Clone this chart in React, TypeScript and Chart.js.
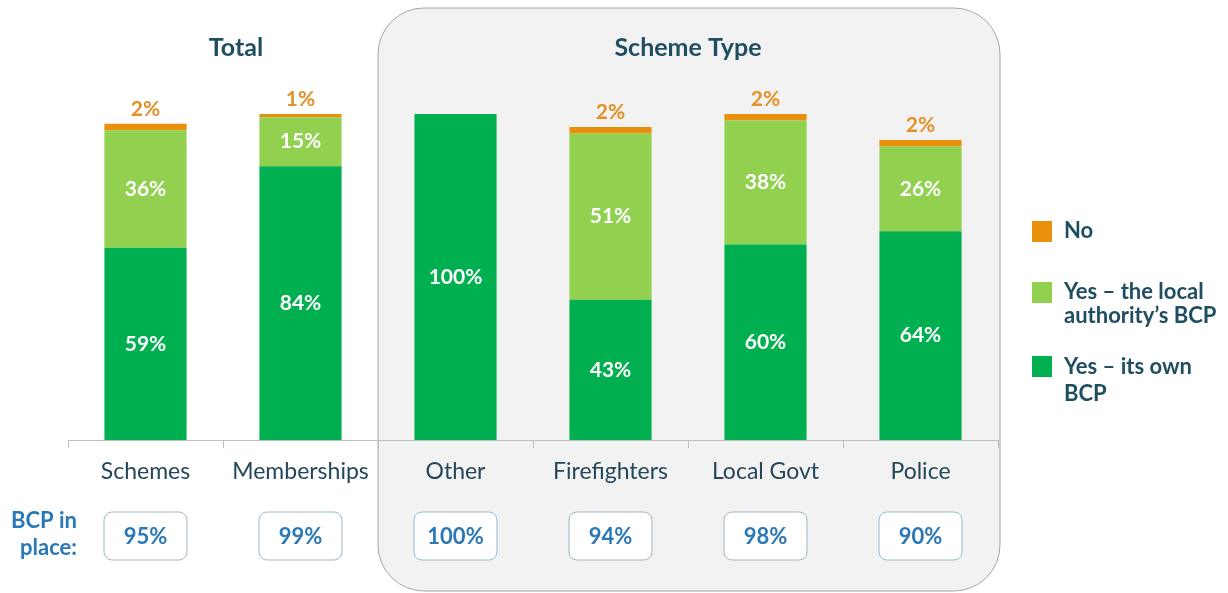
import React, { useEffect, useRef } from "react";
import { Chart, registerables } from "chart.js";

Chart.register(...registerables);

const categories = ["Schemes", "Memberships", "Other", "Firefighters", "Local Govt", "Police"];
const ownBCP = [59, 84, 100, 43, 60, 64];
const localAuthorityBCP = [36, 15, 0, 51, 38, 26];
const noBCP = [2, 1, 0, 2, 2, 2];
const bcpInPlace = [95, 99, 100, 94, 98, 90];
const yTicks = [0, 100];

const DARK_GREEN = "#00b050";
const LIGHT_GREEN = "#92d050";
const ORANGE = "#e8900c";
const ORANGE_TEXT = "#e39125";
const TEAL = "#1f4e62";
const BLUE = "#2a78b5";
const FONT = "Lato, 'Open Sans', sans-serif";

function roundRect(ctx: CanvasRenderingContext2D, x: number, y: number, w: number, h: number, r: number) {
  ctx.beginPath();
  ctx.moveTo(x + r, y);
  ctx.lineTo(x + w - r, y);
  ctx.arcTo(x + w, y, x + w, y + r, r);
  ctx.lineTo(x + w, y + h - r);
  ctx.arcTo(x + w, y + h, x + w - r, y + h, r);
  ctx.lineTo(x + r, y + h);
  ctx.arcTo(x, y + h, x, y + h - r, r);
  ctx.lineTo(x, y + r);
  ctx.arcTo(x, y, x + r, y, r);
  ctx.closePath();
}

const decorPlugin = {
  id: "decor",
  beforeDraw(chart: any) {
    const ctx = chart.ctx as CanvasRenderingContext2D;
    const xs = chart.scales.x;
    const left = (xs.getPixelForValue(1) + xs.getPixelForValue(2)) / 2;
    const right = chart.chartArea.right + 2;
    ctx.save();
    roundRect(ctx, left, 8, right - left, 583, 46);
    ctx.fillStyle = "#f2f2f2";
    ctx.fill();
    ctx.strokeStyle = "#a6a6a6";
    ctx.lineWidth = 1;
    ctx.stroke();
    ctx.restore();
  },
  afterDatasetsDraw(chart: any) {
    const ctx = chart.ctx as CanvasRenderingContext2D;
    ctx.save();
    ctx.textAlign = "center";
    ctx.textBaseline = "middle";
    ctx.font = `bold 21px ${FONT}`;
    [0, 1].forEach((di) => {
      const meta = chart.getDatasetMeta(di);
      meta.data.forEach((bar: any, i: number) => {
        const v = chart.data.datasets[di].data[i];
        if (!v) return;
        ctx.fillStyle = "#ffffff";
        ctx.fillText(`${v}%`, bar.x, (bar.y + bar.base) / 2);
      });
    });
    const metaNo = chart.getDatasetMeta(2);
    metaNo.data.forEach((bar: any, i: number) => {
      const v = chart.data.datasets[2].data[i];
      if (!v) return;
      ctx.fillStyle = ORANGE_TEXT;
      ctx.textBaseline = "bottom";
      ctx.fillText(`${v}%`, bar.x, bar.y - 4);
    });
    ctx.restore();
  },
  afterDraw(chart: any) {
    const ctx = chart.ctx as CanvasRenderingContext2D;
    const xs = chart.scales.x;
    ctx.save();
    // titles
    ctx.fillStyle = TEAL;
    ctx.font = `bold 25px ${FONT}`;
    ctx.textAlign = "center";
    ctx.textBaseline = "middle";
    ctx.fillText("Total", 236, 48);
    ctx.fillText("Scheme Type", (xs.getPixelForValue(2) + xs.getPixelForValue(5)) / 2, 48);

    // BCP in place boxes
    ctx.fillStyle = BLUE;
    ctx.font = `bold 22px ${FONT}`;
    ctx.textAlign = "right";
    ctx.fillText("BCP in", 77, 521);
    ctx.fillText("place:", 77, 548);
    bcpInPlace.forEach((v, i) => {
      const cx = xs.getPixelForValue(i);
      roundRect(ctx, cx - 41.5, 512, 83, 48, 8);
      ctx.fillStyle = "#ffffff";
      ctx.fill();
      ctx.strokeStyle = "#9ab8c9";
      ctx.lineWidth = 1;
      ctx.stroke();
      ctx.fillStyle = BLUE;
      ctx.textAlign = "center";
      ctx.fillText(`${v}%`, cx, 537);
    });

    // legend
    const items = [
      { color: ORANGE, lines: ["No"], sq: 221, ty: [231] },
      { color: LIGHT_GREEN, lines: ["Yes \u2013 the local", "authority\u2019s BCP"], sq: 282, ty: [292, 316] },
      { color: DARK_GREEN, lines: ["Yes \u2013 its own", "BCP"], sq: 356, ty: [367, 394] },
    ];
    ctx.textAlign = "left";
    items.forEach((it) => {
      ctx.fillStyle = it.color;
      ctx.fillRect(1032, it.sq, 20, 21);
      ctx.fillStyle = TEAL;
      it.lines.forEach((l, k) => ctx.fillText(l, 1064, it.ty[k]));
    });
    ctx.restore();
  },
};

export default function App() {
  const ref = useRef<HTMLCanvasElement | null>(null);
  useEffect(() => {
    if (!ref.current) return;
    const chart = new Chart(ref.current, {
      type: "bar",
      data: {
        labels: categories,
        datasets: [
          { label: "Yes \u2013 its own BCP", data: ownBCP, backgroundColor: DARK_GREEN, barPercentage: 0.53, categoryPercentage: 1 },
          { label: "Yes \u2013 the local authority\u2019s BCP", data: localAuthorityBCP, backgroundColor: LIGHT_GREEN, barPercentage: 0.53, categoryPercentage: 1 },
          { label: "No", data: noBCP, backgroundColor: ORANGE, barPercentage: 0.53, categoryPercentage: 1 },
        ],
      },
      options: {
        responsive: false,
        animation: false,
        layout: { padding: { top: 114, left: 68, right: 230, bottom: 0 } },
        plugins: { legend: { display: false }, tooltip: { enabled: false } },
        scales: {
          x: {
            stacked: true,
            offset: true,
            grid: { display: true, offset: true, drawOnChartArea: false, drawTicks: true, tickLength: 8, color: "#bfbfbf" },
            border: { display: true, color: "#bfbfbf" },
            ticks: { color: "#24475a", font: { family: FONT, size: 23 }, padding: 10, maxRotation: 0 },
            afterFit: (scale: any) => {
              scale.height = 153;
            },
          },
          y: {
            stacked: true,
            display: false,
            min: yTicks[0],
            max: yTicks[1],
          },
        },
      },
      plugins: [decorPlugin],
    });
    return () => chart.destroy();
  }, []);
  return (
    <div style={{ position: "absolute", left: 0, top: 0, width: 1228, height: 593, background: "#ffffff" }}>
      <canvas ref={ref} width={1228} height={593} />
    </div>
  );
}
